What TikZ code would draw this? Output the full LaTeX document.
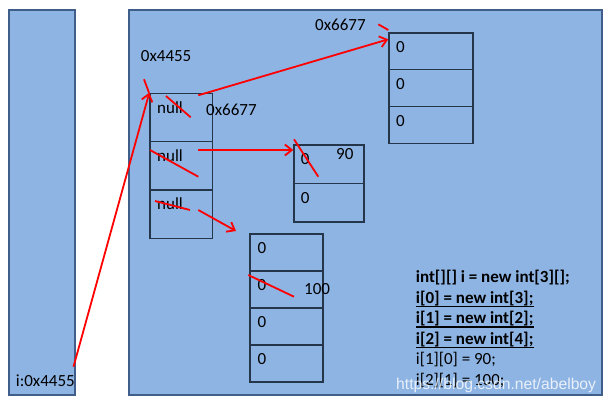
\documentclass[tikz,border=0pt]{standalone}
\usepackage{fontspec}
\setmainfont{Carlito}
\setsansfont{Liberation Sans}
\usetikzlibrary{arrows.meta}
\definecolor{panel}{HTML}{8EB4E3}
\definecolor{panelborder}{HTML}{3F5F8A}
\definecolor{cellborder}{HTML}{25364A}
\begin{document}
\begin{tikzpicture}[x=1pt,y=-1pt,
  panelbox/.style={draw=panelborder, fill=panel, line width=1.8pt, inner sep=0pt, anchor=north west},
  cell/.style={draw=cellborder, line width=1.2pt, inner sep=0pt, anchor=north west},
  txt/.style={font=\fontsize{17}{20}\selectfont, inner sep=0pt, anchor=base west},
  codetxt/.style={font=\fontsize{17}{20}\selectfont, inner sep=0pt, anchor=base west},
  codebold/.style={codetxt, font=\fontsize{17}{20}\selectfont\bfseries},
  uline/.style={line width=1.5pt},
  redline/.style={red, line width=1.8pt},
  redarrow/.style={redline, -{Straight Barb[length=7pt,width=11pt]}}]
\useasboundingbox (0,0) rectangle (609,405);

% panels
\node[panelbox, minimum width=66pt, minimum height=385pt] (stack) at (8,9) {};
\node[panelbox, minimum width=473pt, minimum height=385pt] (heap) at (128,9) {};

% outer array
\node[cell, minimum width=62.4pt, minimum height=48.3pt] (o1) at (149.3,92.7) {};
\node[cell, minimum width=62.4pt, minimum height=48.3pt] (o2) at (149.3,141) {};
\node[cell, minimum width=62.4pt, minimum height=48.3pt] (o3) at (149.3,189.3) {};
\node[txt] (on1) at (157,113.5) {null};
\node[txt] (on2) at (157,161.5) {null};
\node[txt] (on3) at (157,209.8) {null};

% array i[0]
\node[cell, minimum width=84pt, minimum height=36.8pt] (a1) at (388.3,32.3) {};
\node[cell, minimum width=84pt, minimum height=36.8pt] (a2) at (388.3,69.1) {};
\node[cell, minimum width=84pt, minimum height=36.8pt] (a3) at (388.3,105.9) {};
\node[txt] (an1) at (396,52.7) {0};
\node[txt] (an2) at (396,89.7) {0};
\node[txt] (an3) at (396,126.5) {0};

% array i[1]
\node[cell, minimum width=70pt, minimum height=38.5pt] (b1) at (293.3,144.3) {};
\node[cell, minimum width=70pt, minimum height=38.5pt] (b2) at (293.3,182.8) {};
\node[txt] (bn1) at (300.7,164.5) {0};
\node[txt] (bn2) at (300.7,203) {0};

% array i[2]
\node[cell, minimum width=73pt, minimum height=37pt] (c1) at (249.3,233.3) {};
\node[cell, minimum width=73pt, minimum height=37pt] (c2) at (249.3,270.3) {};
\node[cell, minimum width=73pt, minimum height=37pt] (c3) at (249.3,307.3) {};
\node[cell, minimum width=73pt, minimum height=37pt] (c4) at (249.3,344.3) {};
\node[txt] (cn1) at (257.3,253) {0};
\node[txt] (cn2) at (257.3,290.3) {0};
\node[txt] (cn3) at (257.3,327.3) {0};
\node[txt] (cn4) at (257.3,364.3) {0};

% address labels
\node[txt] (lA) at (315,30.7) {0x6677};
\node[txt] (lB) at (140.7,61) {0x4455};
\node[txt] (lC) at (206,115) {0x6677};
\node[txt] (l90) at (336,159.3) {90};
\node[txt] (l100) at (304,294) {100};
\node[txt] (lI) at (15.7,386.7) {i:0x4455};

% code
\node[codebold] (k1) at (415.7,282.5) {int[][] i = new int[3][];};
\node[codebold] (k2) at (415.7,303) {i[0] = new int[3];};
\node[codebold] (k3) at (415.7,323.5) {i[1] = new int[2];};
\node[codebold] (k4) at (415.7,344) {i[2] = new int[4];};
\node[codetxt] (k5) at (415.7,364.5) {i[1][0] = 90;};
\node[codetxt] (k6) at (415.7,385) {i[2][1] = 100;};
\draw[uline] ([yshift=-3.5pt]k2.base west) -- ([yshift=-3.5pt]k2.base east);
\draw[uline] ([yshift=-3.5pt]k3.base west) -- ([yshift=-3.5pt]k3.base east);
\draw[uline] ([yshift=-3.5pt]k4.base west) -- ([yshift=-3.5pt]k4.base east);

% watermark
\node[font=\sffamily\fontsize{15.7}{18}\selectfont, text=white, opacity=0.8, inner sep=0pt, anchor=base west] (wm) at (396,389) {https://blog.csdn.net/abelboy};

% connector end points
\coordinate (sA) at (73.5,366.7);
\coordinate (sB) at (198.3,95.3);
\coordinate (tB) at (388.3,39.3);
\coordinate (sC) at (198.3,150);
\coordinate (tC) at (293.3,150);
\coordinate (sD) at (198.3,210);
\coordinate (tD) at (236,231);

% red arrows
\draw[redarrow] (sA) -- (o1.north west);
\draw[redarrow] (sB) -- (tB);
\draw[redarrow] (sC) -- (tC);
\draw[redarrow] (sD) -- (tD);

% red strike marks
\draw[redline] (144,79.3) -- (149,92.7);
\draw[redline] (378.3,24.3) -- (388.3,30);
\draw[redline] (166,96) -- (190.7,117.3);
\draw[redline] (150,150) -- (198.3,176.7);
\draw[redline] (294,139.3) -- (318.3,176.7);
\draw[redline] (155,201) -- (190,210);
\draw[redline] (248.3,275) -- (294,296.7);
\end{tikzpicture}
\end{document}
